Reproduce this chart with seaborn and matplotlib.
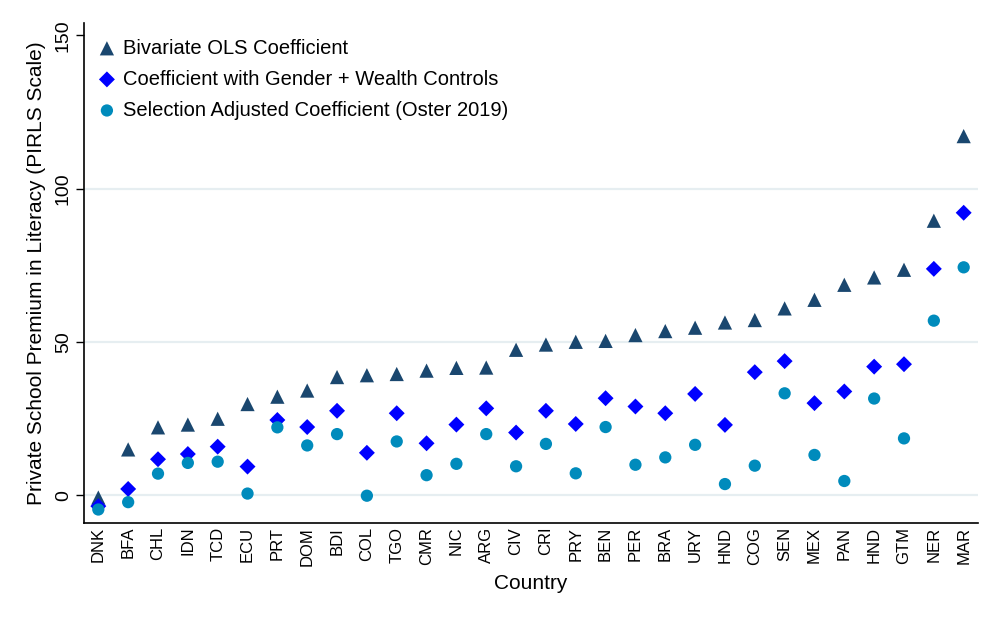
import numpy as np
import pandas as pd
import matplotlib
matplotlib.use("Agg")
import matplotlib.pyplot as plt
import seaborn as sns

countries = ["DNK", "BFA", "CHL", "IDN", "TCD", "ECU", "PRT", "DOM", "BDI", "COL",
             "TGO", "CMR", "NIC", "ARG", "CIV", "CRI", "PRY", "BEN", "PER", "BRA",
             "URY", "HND", "COG", "SEN", "MEX", "PAN", "HND", "GTM", "NER", "MAR"]
bivariate = [-0.8, 14.9, 22.1, 23.0, 24.9, 29.7, 32.1, 34.1, 38.5, 39.1,
             39.5, 40.6, 41.5, 41.6, 47.4, 49.1, 50.0, 50.3, 52.2, 53.5,
             54.6, 56.3, 57.1, 60.9, 63.7, 68.6, 71.0, 73.5, 89.5, 117.1]
controls = [-3.6, 2.0, 11.7, 13.4, 15.8, 9.3, 24.5, 22.2, 27.5, 13.8,
            26.7, 16.9, 23.0, 28.3, 20.4, 27.5, 23.2, 31.6, 28.9, 26.7,
            33.0, 22.9, 40.1, 43.7, 30.0, 33.8, 41.9, 42.7, 73.8, 92.1]
oster = [-4.7, -2.3, 7.0, 10.5, 10.9, 0.5, 22.1, 16.2, 19.9, -0.2,
         17.5, 6.5, 10.2, 19.9, 9.4, 16.7, 7.1, 22.2, 9.9, 12.3,
         16.4, 3.6, 9.6, 33.2, 13.1, 4.6, 31.5, 18.5, 56.9, 74.3]
yticks = [0, 50, 100, 150]
labels = ["Bivariate OLS Coefficient",
          "Coefficient with Gender + Wealth Controls",
          "Selection Adjusted Coefficient (Oster 2019)"]

sns.set_theme(style="white")
plt.rcParams["font.family"] = ["Liberation Sans", "DejaVu Sans"]
plt.rcParams["text.color"] = "black"
plt.rcParams["axes.labelcolor"] = "black"
plt.rcParams["xtick.color"] = "black"
plt.rcParams["ytick.color"] = "black"

df = pd.DataFrame({"pos": np.arange(len(countries)), "country": countries,
                   "biv": bivariate, "ctl": controls, "ost": oster})

fig = plt.figure(figsize=(10, 6.25), dpi=100)
ax = fig.add_axes([0.0843, 0.1637, 0.8937, 0.7995])

sns.scatterplot(data=df, x="pos", y="biv", marker="^", s=105, color="#1A476F",
                edgecolor="none", linewidth=0, label=labels[0], ax=ax, zorder=3)
sns.scatterplot(data=df, x="pos", y="ctl", marker="D", s=66, color="#0000FF",
                edgecolor="none", linewidth=0, label=labels[1], ax=ax, zorder=4)
sns.scatterplot(data=df, x="pos", y="ost", marker="o", s=78, color="#008BBC",
                edgecolor="none", linewidth=0, label=labels[2], ax=ax, zorder=5)

ax.set_xlim(-0.47, len(countries) - 1 + 0.48)
ax.set_ylim(-9, 154)
ax.set_xticks(df["pos"])
ax.set_xticklabels(countries, rotation=90, fontsize=12, color="black")
ax.set_yticks(yticks)
ax.set_yticklabels([str(t) for t in yticks], rotation=90, va="center", fontsize=14,
                   color="black")
ax.tick_params(axis="x", length=0, pad=3)
ax.tick_params(axis="y", length=6, width=1, color="black", left=True, pad=3)

for y in yticks[:-1]:
    ax.axhline(y, color="#E6EEF1", linewidth=1.6, zorder=1)

for side in ["top", "right"]:
    ax.spines[side].set_visible(False)
for side in ["left", "bottom"]:
    ax.spines[side].set_color("black")
    ax.spines[side].set_linewidth(1.2)

ax.set_xlabel("Country", fontsize=15, labelpad=6, color="black")
ax.set_ylabel("Private School Premium in Literacy (PIRLS Scale)", fontsize=15,
              labelpad=6, color="black")

leg = ax.legend(loc="upper left", frameon=False, fontsize=14.5, handletextpad=0.2,
                labelspacing=0.6, borderaxespad=0.3, handlelength=1.2,
                bbox_to_anchor=(-0.004, 0.997))
for t in leg.get_texts():
    t.set_color("black")

fig.savefig("out.png", dpi=100, facecolor="white")
